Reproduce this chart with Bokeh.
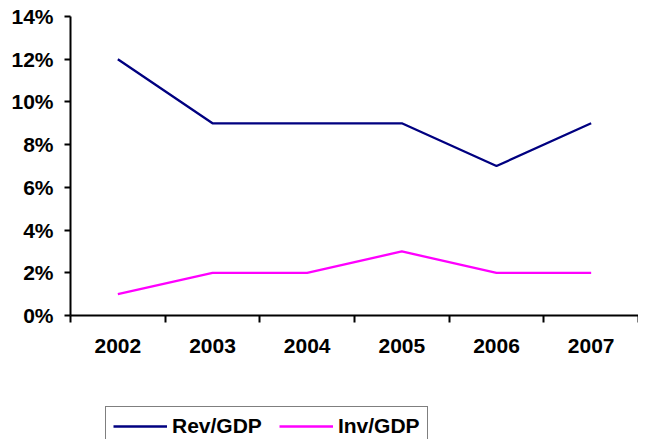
from bokeh.plotting import figure
from bokeh.layouts import column
from bokeh.models import Range1d, FixedTicker, NumeralTickFormatter, Legend, LegendItem
from bokeh.embed import file_html
from bokeh.resources import INLINE

years = ["2002", "2003", "2004", "2005", "2006", "2007"]
rev_gdp = [0.12, 0.09, 0.09, 0.09, 0.07, 0.09]
inv_gdp = [0.01, 0.02, 0.02, 0.03, 0.02, 0.02]
y_ticks = [0.0, 0.02, 0.04, 0.06, 0.08, 0.10, 0.12, 0.14]
series_names = ["Rev/GDP", "Inv/GDP"]
series_colors = ["#000080", "#FF00FF"]

xs = [i + 0.5 for i in range(len(years))]

FONT = "Liberation Sans"
FS = "21px"

p = figure(width=638, height=380, output_backend="svg", toolbar_location=None,
           x_range=Range1d(0, len(years)), y_range=Range1d(0, 0.14),
           min_border_left=70, min_border_right=0, min_border_top=16, min_border_bottom=65)
p.outline_line_color = None
p.xgrid.visible = False
p.ygrid.visible = False

p.line(xs, rev_gdp, line_color=series_colors[0], line_width=2.3)
p.line(xs, inv_gdp, line_color=series_colors[1], line_width=2.3)

# x axis: labels at category centres, tick marks at boundaries
p.xaxis.ticker = FixedTicker(ticks=xs, minor_ticks=list(range(len(years) + 1)))
p.xaxis.major_label_overrides = {x: y for x, y in zip(xs, years)}
p.xaxis.major_tick_out = 0
p.xaxis.major_tick_in = 0
p.xaxis.minor_tick_out = 7
p.xaxis.minor_tick_in = 0
p.xaxis.minor_tick_line_color = "black"
p.xaxis.minor_tick_line_width = 2
p.xaxis.major_label_standoff = 16

p.yaxis.ticker = FixedTicker(ticks=y_ticks)
p.yaxis.formatter = NumeralTickFormatter(format="0%")
p.yaxis.major_tick_out = 6
p.yaxis.major_tick_in = 0
p.yaxis.minor_tick_out = 0
p.yaxis.minor_tick_in = 0
p.yaxis.major_tick_line_width = 2
p.yaxis.major_label_standoff = 11

for ax in (p.xaxis, p.yaxis):
    ax.axis_line_color = "black"
    ax.axis_line_width = 2
    ax.major_label_text_font = FONT
    ax.major_label_text_font_size = FS
    ax.major_label_text_font_style = "bold"
    ax.major_label_text_color = "black"

# legend strip below the chart
p2 = figure(width=638, height=59, output_backend="svg", toolbar_location=None,
            x_range=Range1d(0, len(years)), y_range=Range1d(1, 2),
            x_axis_location=None, y_axis_location=None,
            min_border_left=0, min_border_right=0, min_border_top=0, min_border_bottom=0)
p2.outline_line_color = None
p2.xgrid.visible = False
p2.ygrid.visible = False
lr1 = p2.line(xs, rev_gdp, line_color=series_colors[0], line_width=2.3)
lr2 = p2.line(xs, inv_gdp, line_color=series_colors[1], line_width=2.3)

legend = Legend(items=[LegendItem(label=series_names[0], renderers=[lr1]),
                       LegendItem(label=series_names[1], renderers=[lr2])],
                orientation="horizontal", location=(35, -7),
                border_line_color="black", border_line_width=1.5,
                background_fill_alpha=1.0,
                padding=7, spacing=17, margin=0,
                glyph_width=54, glyph_height=20, label_standoff=5,
                label_text_font=FONT, label_text_font_size="21px",
                label_text_font_style="bold", label_text_color="black")
p2.add_layout(legend, "center")

layout = column(p, p2, spacing=0)
open("out.html", "w").write(file_html(layout, INLINE))
